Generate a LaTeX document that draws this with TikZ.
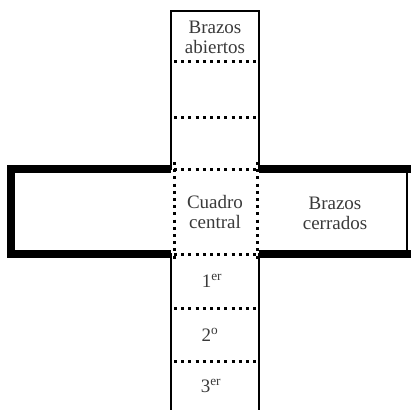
\documentclass[tikz,border=0pt]{standalone}
\usepackage{fontspec}
\setmainfont{Liberation Serif}
\definecolor{txtgray}{HTML}{3A3A3A}
\tikzset{
  x=1pt, y=-1pt,
  armline/.style={draw=black, line width=2pt, line cap=rect},
  thickline/.style={draw=black, line width=8pt, line join=miter},
  edgeline/.style={draw=black, line width=2pt},
  dotline/.style={draw=black, line width=3pt, dash pattern=on 3pt off 4.2pt},
  lbl/.style={text=txtgray, font={\fontsize{19}{20}\selectfont}, align=center, inner sep=0pt, anchor=base},
}
\begin{document}
\begin{tikzpicture}
\useasboundingbox (0,0) rectangle (411,409);
% corner coordinates
\coordinate (tl) at (171,11);
\coordinate (tr) at (259,11);
\coordinate (cl) at (171,169);
\coordinate (cr) at (259,169);
\coordinate (bl) at (171,254);
\coordinate (br) at (259,254);
\coordinate (bbl) at (171,409);
\coordinate (bbr) at (259,409);
% open arm (vertical)
\draw[armline] (cl) -- (tl) -- (tr) -- (cr);
\draw[armline] (bl) -- (bbl);
\draw[armline] (br) -- (bbr);
% closed arms (horizontal)
\draw[thickline] (cl) -- (11,169) -- (11,254) -- (bl);
\draw[thickline] (cr) -- (411,169);
\draw[thickline] (br) -- (411,254);
\draw[edgeline] (407,169) -- (407,254);
% dotted divisions
\draw[dotline] (174,62) -- (258,62);
\draw[dotline] (174,117) -- (258,117);
\draw[dotline] (174,169) -- (258,169);
\draw[dotline] (174,254) -- (258,254);
\draw[dotline] (174,308) -- (258,308);
\draw[dotline] (174,361) -- (258,361);
\draw[dotline] (174,162) -- (174,260);
\draw[dotline] (257,162) -- (257,260);
% labels (base anchor = baseline of last line)
\node[lbl] (abiertos) at (215,54) {Brazos\\abiertos};
\node[lbl] (central) at (215,228) {Cuadro\\central};
\node[lbl] (cerrados) at (335,229) {Brazos\\cerrados};
\node[lbl] (p1) at (212,287) {1\textsuperscript{er}};
\node[lbl] (p2) at (210,341) {2\textsuperscript{o}};
\node[lbl] (p3) at (211,392) {3\textsuperscript{er}};
\end{tikzpicture}
\end{document}
